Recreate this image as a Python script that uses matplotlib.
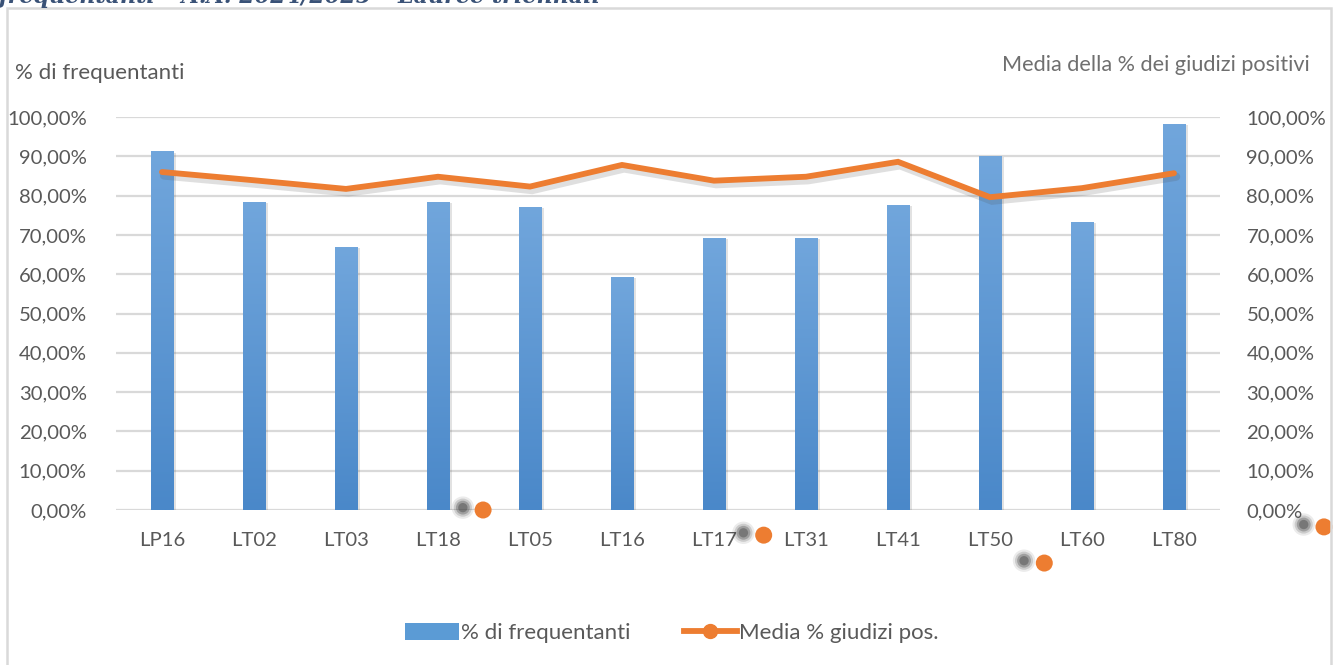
import matplotlib
matplotlib.use("Agg")
import matplotlib.pyplot as plt
import matplotlib.patheffects as pe
from matplotlib.patches import Rectangle
from matplotlib.colors import LinearSegmentedColormap
from matplotlib.ticker import FixedLocator, FuncFormatter
import numpy as np

# ---------------- data ----------------
categories = ["LP16", "LT02", "LT03", "LT18", "LT05", "LT16",
              "LT17", "LT31", "LT41", "LT50", "LT60", "LT80"]
pct_frequentanti = [91.3, 78.4, 66.9, 78.4, 77.1, 59.3,
                    69.2, 69.2, 77.6, 90.1, 73.3, 98.2]
media_giudizi_pos = [86.0, 83.9, 81.7, 84.8, 82.3, 87.8,
                     83.8, 84.8, 88.6, 79.6, 81.9, 85.7]
# stray (misplaced) marker artefacts visible in the reference
stray_x = [3.49, 6.54, 9.59, 12.63]
stray_y = [0.0, -6.4, -13.5, -4.3]

yticks = [0, 10, 20, 30, 40, 50, 60, 70, 80, 90, 100]
title_text = "frequentanti \u2013 A.A. 2024/2025 \u2013 Lauree triennali"
left_title = "% di frequentanti"
right_title = "Media della % dei giudizi positivi"
legend_labels = ["% di frequentanti", "Media % giudizi pos."]

# ---------------- style ----------------
W, H = 1343, 665
plt.rcParams['font.family'] = ['Lato', 'DejaVu Sans']
TXT = "#595959"
BLUE = "#5B9BD5"
ORANGE = "#ED7D31"
GRID = "#D9D9D9"

fig = plt.figure(figsize=(W / 100, H / 100), dpi=100)
fig.patch.set_facecolor("white")

def fx(px):
    return px / W

def fy(py):
    return 1 - py / H

# chart frame
fig.add_artist(Rectangle((fx(7), fy(700)), fx(1331) - fx(7), fy(8) - fy(700),
                         transform=fig.transFigure, fill=False,
                         edgecolor=GRID, lw=1.8))

# title (cut off at the top, as in the reference)
fig.text(fx(-2), fy(-3), title_text, ha="left", va="center",
         fontsize=16, fontstyle="italic", fontweight="bold",
         family=["DejaVu Serif"], color="#3A5277")

ax = fig.add_axes([fx(116), fy(510), fx(1220) - fx(116), fy(117) - fy(510)])
ax2 = ax.twinx()

x = np.arange(len(categories))
ax.set_xlim(-0.5, len(categories) - 0.5)
ax.set_ylim(0, 100)
ax2.set_ylim(0, 100)

# gridlines
for t in yticks:
    ax.axhline(t, color=GRID, lw=1.6, zorder=0)

# bars with gradient and soft shadow
cmap = LinearSegmentedColormap.from_list("bg", ["#4A88C9", "#71A6DC"])
bw = 0.25
bars = ax.bar(x, pct_frequentanti, width=bw, color=BLUE, zorder=2,
              path_effects=[pe.SimplePatchShadow(offset=(2, -1), alpha=0.18,
                                                 shadow_rgbFace="#606060"),
                            pe.Normal()])
grad = np.linspace(0, 1, 256).reshape(-1, 1)
for b in bars:
    x0 = b.get_x()
    h = b.get_height()
    im = ax.imshow(grad, extent=[x0, x0 + bw, 0, h], origin="lower",
                   cmap=cmap, aspect="auto", zorder=2.5)
    im.set_clip_path(b)
ax.set_xlim(-0.5, len(categories) - 0.5)
ax.set_ylim(0, 100)

# line
ax2.plot(x, media_giudizi_pos, color=ORANGE, lw=4.2, solid_capstyle="round",
         solid_joinstyle="miter", zorder=3,
         path_effects=[pe.SimpleLineShadow(offset=(1.5, -2.5), alpha=0.18,
                                           shadow_color="#505050", linewidth=6),
                       pe.Normal()])

# stray markers with soft (blurred-looking) shadows
sx = np.array(stray_x) - 0.22
sy = np.array(stray_y) + 0.6
for size, alpha in [(260, 0.10), (170, 0.18), (100, 0.30), (45, 0.40)]:
    ax2.scatter(sx, sy, s=size, color="#3c3c3c", alpha=alpha, clip_on=False,
                zorder=4, edgecolors="none")
ax2.scatter(stray_x, stray_y, s=150, color=ORANGE, clip_on=False, zorder=5,
            edgecolors="none")

# axes styling
for a in (ax, ax2):
    for s in a.spines.values():
        s.set_visible(False)
ax.axhline(0, color=GRID, lw=1.8, zorder=1)

fmt = FuncFormatter(lambda v, p: f"{v:.2f}".replace(".", ",") + "%")
ax.yaxis.set_major_locator(FixedLocator(yticks))
ax.yaxis.set_major_formatter(fmt)
ax2.yaxis.set_major_locator(FixedLocator(yticks))
ax2.yaxis.set_major_formatter(fmt)
ax.tick_params(axis="y", length=0, pad=21, labelsize=14.6, labelcolor=TXT)
ax2.tick_params(axis="y", length=0, pad=19, labelsize=14.6, labelcolor=TXT)
ax.set_xticks(x)
ax.set_xticklabels(categories)
ax.tick_params(axis="x", length=0, pad=16, labelsize=14.6, labelcolor=TXT)

# axis titles
fig.text(fx(15), fy(73), left_title, ha="left", va="center",
         fontsize=16, color=TXT)
fig.text(fx(1310), fy(65), right_title, ha="right", va="center",
         fontsize=15.6, color="#6f6f6f")

# legend
h1 = Rectangle((0, 0), 1, 1, facecolor=BLUE, edgecolor="none")
h2 = plt.Line2D([], [], color=ORANGE, lw=4.2, marker="o", markersize=10)
fig.legend([h1, h2], legend_labels, loc="center", bbox_to_anchor=(fx(672), fy(633)),
           ncol=2, frameon=False, fontsize=16, labelcolor=TXT,
           handlelength=2.4, handletextpad=0.1, columnspacing=2.4,
           handleheight=0.8)

fig.savefig("out.png", dpi=100, facecolor="white")
